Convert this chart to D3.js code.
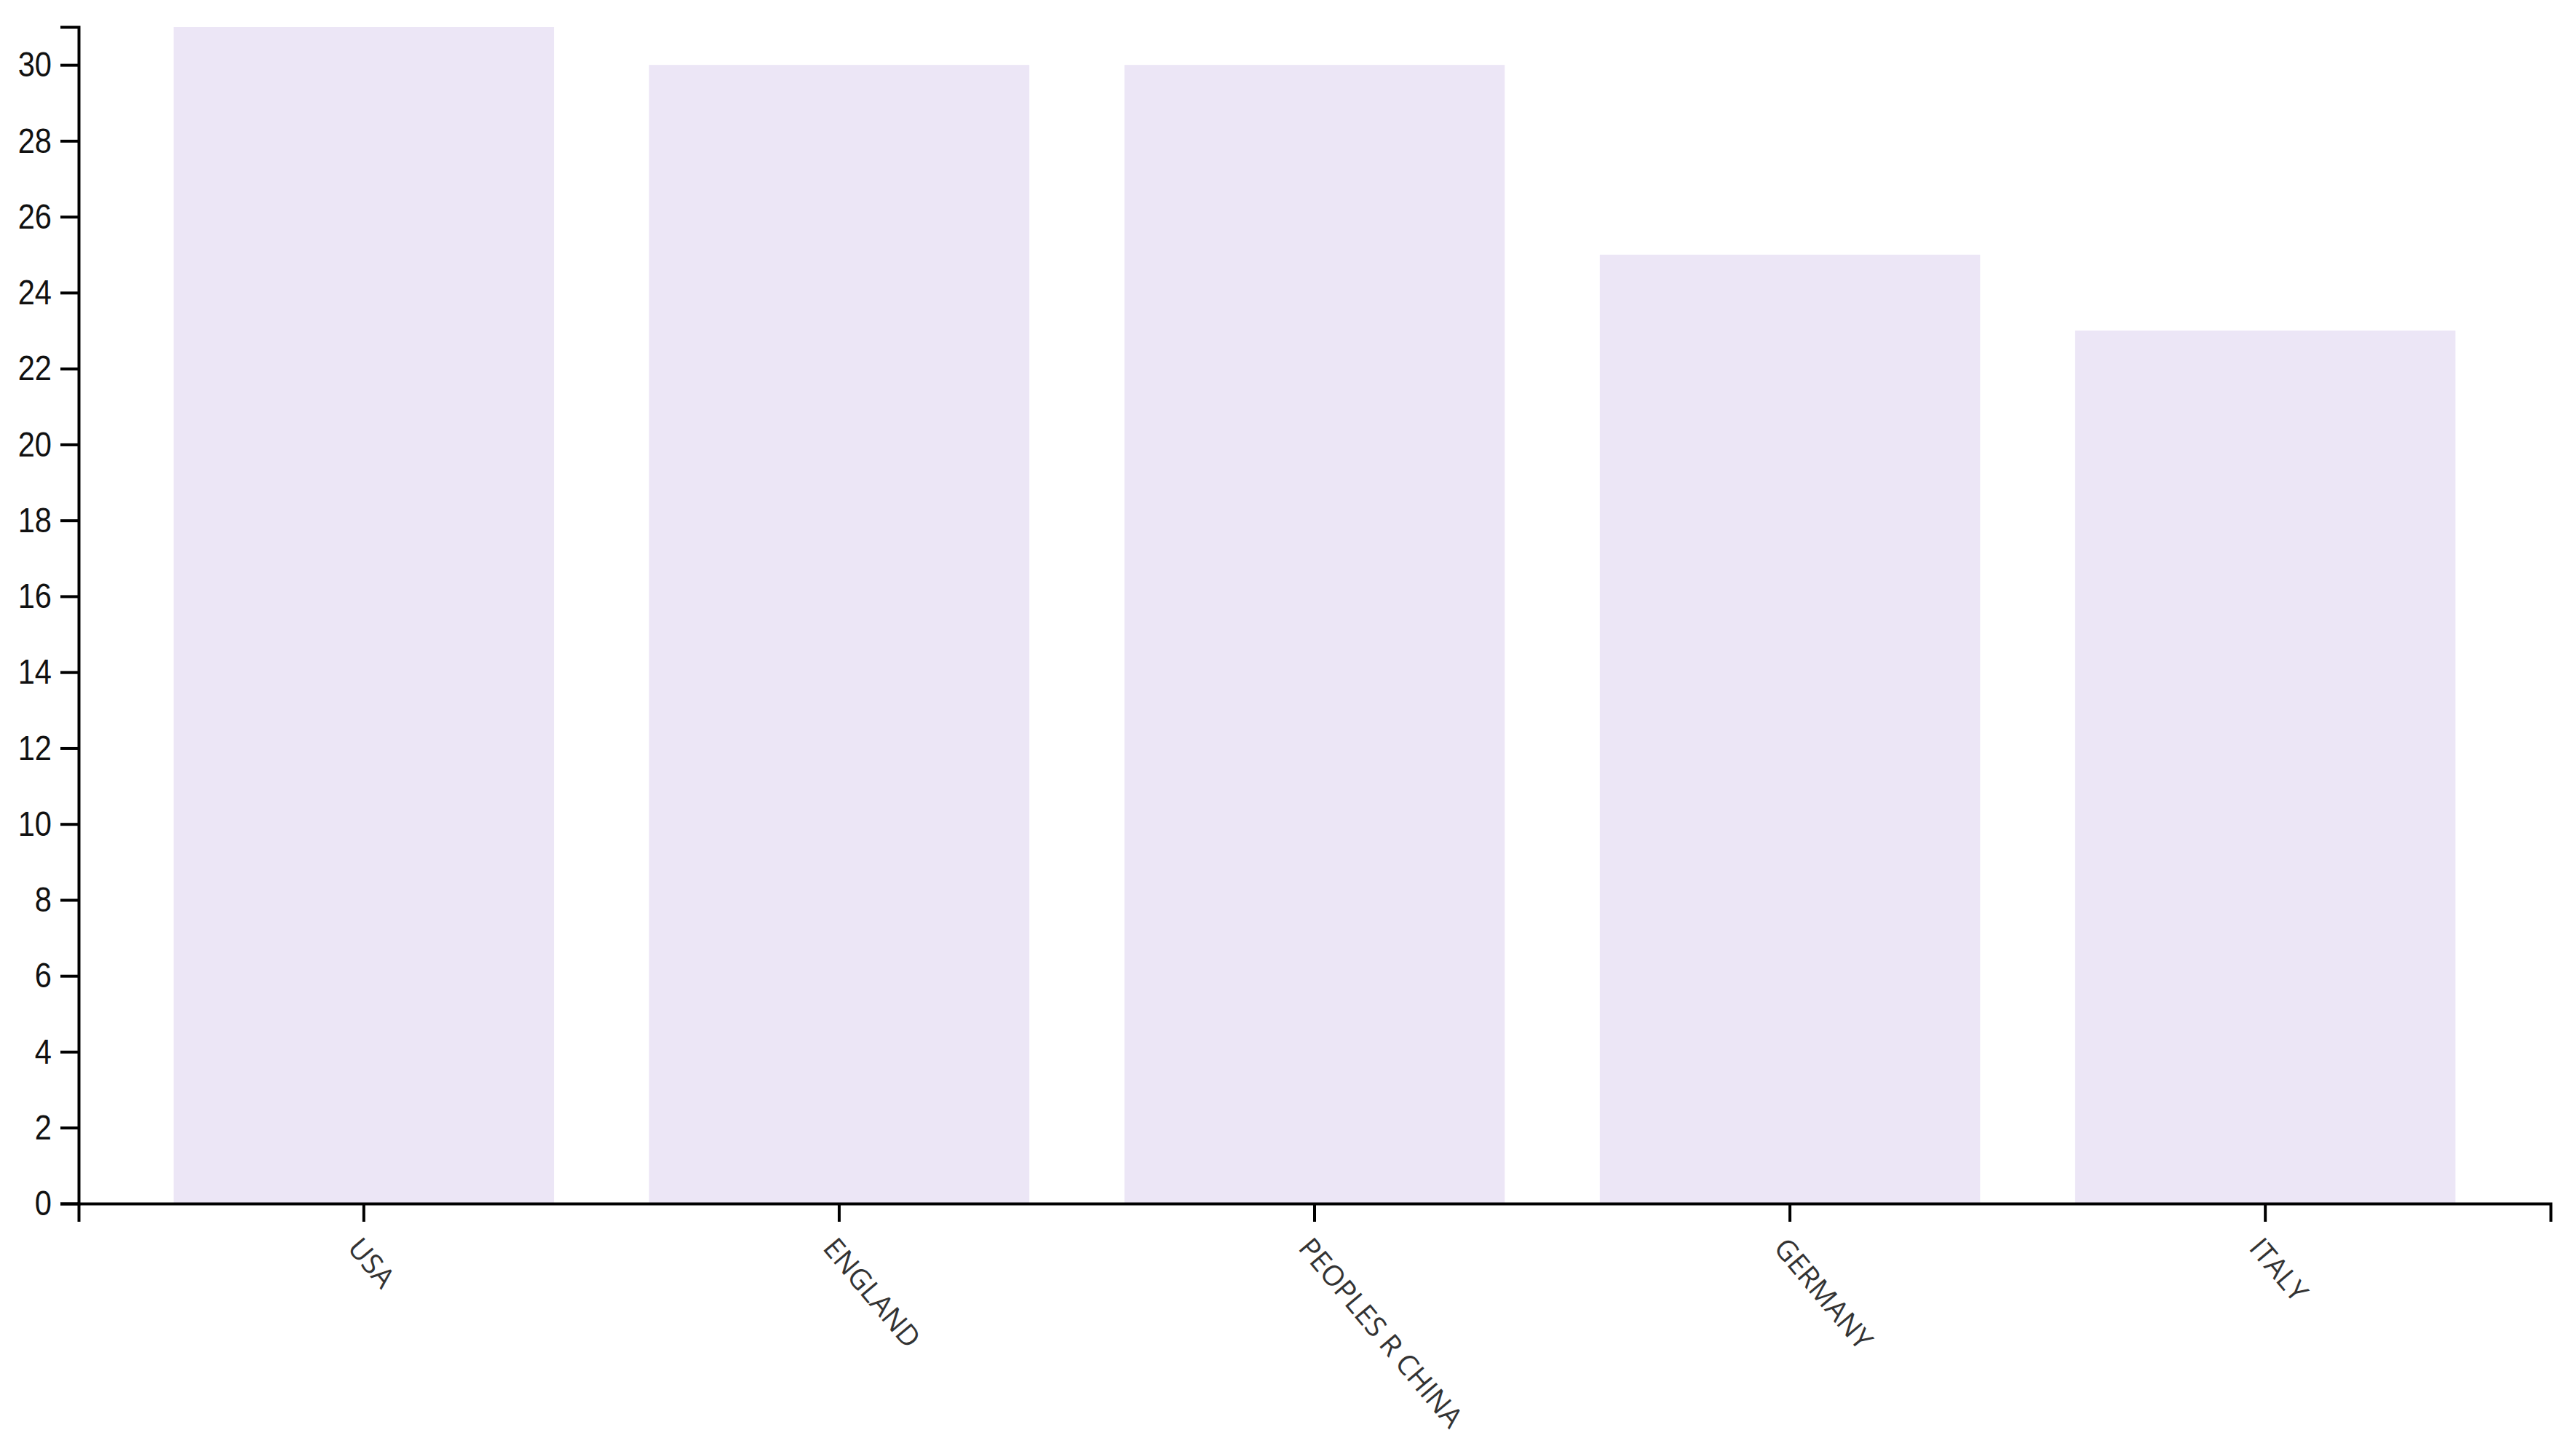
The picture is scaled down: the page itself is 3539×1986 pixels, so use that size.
<!DOCTYPE html>
<html>
<head>
<meta charset="utf-8">
<script src="https://cdn.jsdelivr.net/npm/d3@7"></script>
<style>
  body { margin: 0; background: #fff; }
  .y-axis text { font-family: "Liberation Sans", Arial, sans-serif; font-size: 49px; fill: #111; }
  .x-axis text { font-family: "Open Sans", sans-serif; font-size: 39px; fill: #333; }
  .domain, .tick line { stroke: #000; stroke-width: 4; }
</style>
</head>
<body>
<div id="chart"></div>
<script>
// chart data
var countries = ['USA', 'ENGLAND', 'PEOPLES R CHINA', 'GERMANY', 'ITALY']
var counts = [31, 30, 30, 25, 23]
var bar_color = '#ece6f6'

var full_width = 3539, full_height = 1986
var margin = { top: 37, right: 35, bottom: 333, left: 108 }
var width = full_width - margin.left - margin.right
var height = full_height - margin.top - margin.bottom

var svg = d3.select('#chart')
    .append('svg')
    .attr('width', full_width)
    .attr('height', full_height)
    .append('g')
    .attr('transform', `translate(${margin.left},${margin.top})`)

var x = d3.scaleBand()
    .domain(countries)
    .range([0, width])
    .padding(0.2)

var y = d3.scaleLinear()
    .domain([0, d3.max(counts)])
    .range([height, 0])

// bars
svg.selectAll('.bar')
    .data(countries)
    .enter()
    .append('rect')
    .attr('class', 'bar')
    .attr('x', d => x(d))
    .attr('width', x.bandwidth())
    .attr('y', (d, i) => y(counts[i]))
    .attr('height', (d, i) => height - y(counts[i]))
    .attr('fill', bar_color)

// x axis, labels turned
svg.append('g')
    .attr('class', 'x-axis')
    .attr('transform', `translate(0,${height})`)
    .call(d3.axisBottom(x).tickSize(25).tickPadding(12))
    .selectAll('text')
    .attr('x', 0)
    .attr('y', 0)
    .attr('dy', 0)
    .attr('transform', 'rotate(50) translate(32,58)')
    .style('text-anchor', 'start')

// y axis, narrow digits
var y_squeeze = 0.85
svg.append('g')
    .attr('class', 'y-axis')
    .call(d3.axisLeft(y).tickSize(25).tickPadding(12))
    .selectAll('text')
    .attr('x', -37 / y_squeeze)
    .attr('transform', `scale(${y_squeeze},1)`)
</script>
</body>
</html>
